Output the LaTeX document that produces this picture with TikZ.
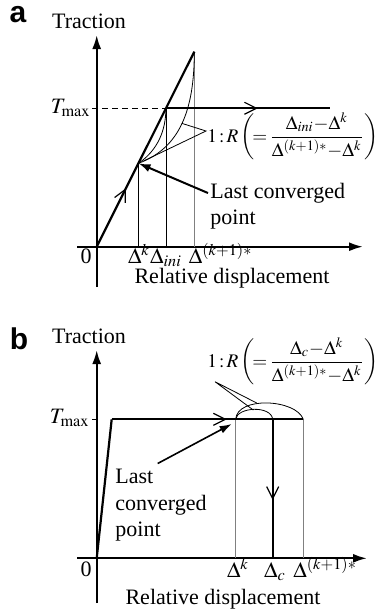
\documentclass[tikz,border=0pt]{standalone}
\usepackage{amsmath}
\usepackage{mathptmx}
\usepackage{fontspec}
\setmainfont{Liberation Serif}
\setsansfont{Liberation Sans}
\usetikzlibrary{arrows.meta,decorations.markings}

\begin{document}
\begin{tikzpicture}[x=0.5pt,y=-0.5pt,
    font=\fontsize{11}{12.5}\selectfont,
    every node/.style={inner sep=0pt},
    axis/.style={line width=1.1pt,-{Latex[length=7pt,width=4.5pt]}},
    path/.style={line width=1.1pt},
    thin/.style={line width=0.4pt},
    guide/.style={line width=0.5pt,draw=gray},
    pointer/.style={line width=1pt,-{Latex[length=6pt,width=4pt]}},
    ratio/.style={anchor=base west,font=\fontsize{9.6}{11.5}\selectfont},
    midarrow/.style={postaction={decorate},decoration={markings,
      mark=at position #1 with {\arrow{Straight Barb[length=6pt,width=6pt,line width=0.6pt]}}}},
    panel/.style={font=\sffamily\bfseries\fontsize{15}{16}\selectfont}
  ]
  \useasboundingbox (0,0) rectangle (376,611);

  % (a) hardening branch
  \coordinate (Oa) at (96.7,246.7);
  \coordinate (Pa) at (194.3,51.7);
  \coordinate (Ia) at (165.9,108.3);
  \coordinate (Ka) at (138.5,163.3);
  \coordinate (Ea) at (330,108.3);
  \coordinate (Ra) at (206,131);
  \node[panel] (lbla) at (18,15) {a};
  \node[anchor=base] (tra) at (89,28.3) {Traction};
  \draw[axis] (96.7,287) -- (96.7,35);
  \draw[axis] (77,246.7) -- (363,246.7);
  \draw[thin,dash pattern=on 3pt off 2pt] (92,108.3) -- (Ia);
  \draw[thin] (Ka) -- (Ka |- Oa);
  \draw[thin] (Ia) -- (Ia |- Oa);
  \draw[guide] (Pa) -- (Pa |- Oa);
  \draw[thin] (Ka) .. controls (158,150) and (165.9,130) .. (Ia);
  \draw[thin] (Ka) .. controls (180,148) and (194.3,110) .. (Pa);
  \draw[thin] (181.7,123.3) -- (Ra) -- (143.5,161);
  \draw[path,midarrow=0.3] (Oa) -- (Pa);
  \draw[path,midarrow=0.56] (Ia) -- (Ea);
  \node[anchor=base east] (tmaxa) at (91,113.3) {$T_{\max}$};
  \node[ratio] (ratioa) at (207,142)
    {$1\,{:}\,R\,\biggl(\!{=}\,\dfrac{\Delta_{ini}{-}\Delta^k}{\Delta^{(k+1)*}{-}\Delta^k}\biggr)$};
  \node[anchor=base west] (lcpa) at (210,198.3) {Last converged};
  \node[anchor=base west] (lcpa2) at (210,224) {point};
  \draw[pointer] ([xshift=-1pt]lcpa.west) -- (Ka);
  \node[anchor=base] (zeroa) at (86,263.3) {0};
  \node[anchor=base] (dka) at (139,263.3) {$\Delta^k$};
  \node[anchor=base] (dinia) at (166,263.3) {$\Delta_{ini}$};
  \node[anchor=base west] (dk1a) at (188.5,263.3) {$\Delta^{(k+1)*}$};
  \node[anchor=base] (rda) at (232,283) {Relative displacement};

  % (b) softening branch
  \coordinate (Ob) at (96.7,558.3);
  \coordinate (Ab) at (111.7,419.3);
  \coordinate (Kb) at (235.7,419.3);
  \coordinate (Cb) at (272.7,419.3);
  \coordinate (Eb) at (303.3,419.3);
  \coordinate (Rb) at (215,381.7);
  \node[panel] (lblb) at (19,339) {b};
  \node[anchor=base] (trb) at (89,343.3) {Traction};
  \draw[axis] (96.7,603) -- (96.7,350);
  \draw[axis] (77,558.3) -- (367,558.3);
  \draw[thin] (92,419.3) -- (96.7,419.3);
  \draw[guide] (Kb) -- (Kb |- Ob);
  \draw[guide] (Eb) -- (Eb |- Ob);
  \draw[thin] (Kb) .. controls (237,407) and (271,405) .. (Cb);
  \draw[thin] (Kb) .. controls (237,396) and (296,399) .. (Eb);
  \draw[thin] (253.3,410) -- (Rb) -- (256.7,403);
  \draw[path] (Ob) -- (Ab);
  \draw[path,midarrow=0.6] (Ab) -- (Eb);
  \draw[path,midarrow=0.58] (Cb) -- (Cb |- Ob);
  \node[anchor=base east] (tmaxb) at (90,423.3) {$T_{\max}$};
  \node[ratio] (ratiob) at (207,367)
    {$1\,{:}\,R\,\biggl(\!{=}\,\dfrac{\Delta_{c}{-}\Delta^k}{\Delta^{(k+1)*}{-}\Delta^k}\biggr)$};
  \node[anchor=base west] (lcpb) at (115,483.3) {Last};
  \node[anchor=base west] (lcpb2) at (115,510) {converged};
  \node[anchor=base west] (lcpb3) at (115,536.7) {point};
  \draw[pointer,line width=0.8pt] ([xshift=2pt,yshift=2.5pt]lcpb.north east) -- (231.7,424);
  \node[anchor=base] (zerob) at (86,576) {0};
  \node[anchor=base] (dkb) at (238,577.5) {$\Delta^k$};
  \node[anchor=base] (dcb) at (275,577.5) {$\Delta_c$};
  \node[anchor=base west] (dk1b) at (293,577.5) {$\Delta^{(k+1)*}$};
  \node[anchor=base] (rdb) at (223,604) {Relative displacement};
\end{tikzpicture}
\end{document}
